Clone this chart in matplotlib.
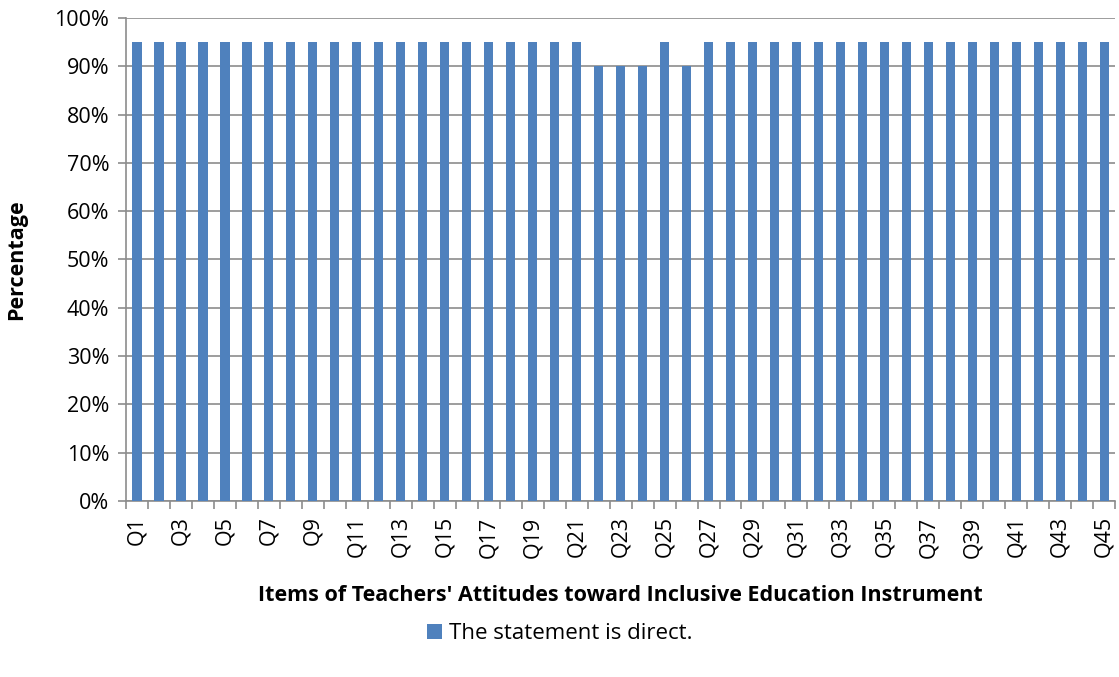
import matplotlib
matplotlib.use("Agg")
import matplotlib.pyplot as plt
from matplotlib.ticker import PercentFormatter, FixedLocator
import numpy as np

plt.rcParams['font.family'] = ['Open Sans', 'DejaVu Sans']

items = [f"Q{i}" for i in range(1, 46)]
direct_pct = [95] * 21 + [90, 90, 90, 95, 90] + [95] * 19

fig = plt.figure(figsize=(11.19, 6.77), dpi=100)
ax = fig.add_axes([0.1126, 0.26, 0.884, 0.7134])

x = np.arange(len(items))
ax.bar(x, direct_pct, width=0.42, color="#4F81BD", label="The statement is direct.", zorder=3)

ax.set_xlim(-0.5, len(items) - 0.5)
ax.set_ylim(0, 100)
ax.set_yticks(np.arange(0, 101, 10))
ax.yaxis.set_major_formatter(PercentFormatter(decimals=0))
ax.grid(axis='y', color="#8C8C8C", linewidth=1.2, zorder=0)

# labels on every other category, tick marks between categories
ax.set_xticks(x[::2])
ax.set_xticklabels(items[::2], rotation=90, fontsize=15.5)
ax.xaxis.set_minor_locator(FixedLocator(np.arange(-0.5, len(items), 1)))
ax.tick_params(axis='x', which='major', length=0, pad=11)
ax.tick_params(axis='x', which='minor', length=6, color="#8C8C8C", width=1.2)
ax.tick_params(axis='y', labelsize=15.5, length=6, color="#8C8C8C", width=1.2, pad=6)

for side in ['top', 'right']:
    ax.spines[side].set_visible(False)
for side in ['left', 'bottom']:
    ax.spines[side].set_color("#8C8C8C")
    ax.spines[side].set_linewidth(1.2)

ax.set_xlabel("Items of Teachers' Attitudes toward Inclusive Education Instrument",
              fontsize=15.5, fontweight='bold', labelpad=20)
ax.set_ylabel("Percentage", fontsize=15.5, fontweight='bold', labelpad=20)

fig.legend(loc='center', bbox_to_anchor=(0.5, 0.064), frameon=False, fontsize=16,
           handlelength=0.7, handleheight=0.7, handletextpad=0.3)

fig.savefig("out.png", dpi=100)
